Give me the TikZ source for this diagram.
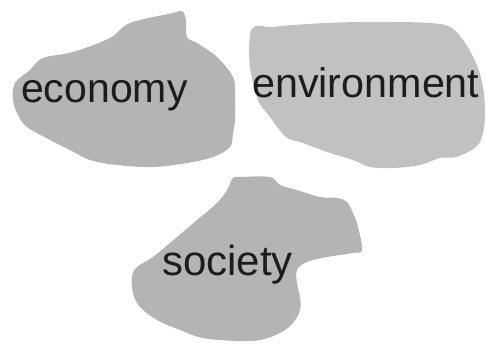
\documentclass[tikz,border=0pt]{standalone}
\usepackage{fontspec}
\setmainfont{Liberation Sans}
\definecolor{blobA}{HTML}{B4B4B4}
\definecolor{blobB}{HTML}{C1C1C1}
\definecolor{ink}{HTML}{1C1C1C}
\begin{document}
\begin{tikzpicture}[x=1pt,y=-1pt,
  blob/.style={fill=#1,draw=none},
  word/.style={anchor=base west,inner sep=0pt,text=ink,font=\fontsize{#1}{48}\selectfont}]
\useasboundingbox (0,0) rectangle (486,344);
\fill[white] (0,0) rectangle (486,344);
% economy
\fill[blobA] plot[smooth cycle,tension=0.6] coordinates {
  (182,11) (186,20) (187,37) (197,43) (217,57) (233,77) (235,93) (235,120)
  (233,133) (230,147) (213,157) (187,163) (153,167) (117,165) (90,160)
  (70,150) (50,140) (27,127) (18,115) (13,100) (15,83) (30,70) (43,58)
  (73,52) (110,38) (130,23) (173,13)};
% environment
\fill[blobB] plot[smooth cycle,tension=0.6] coordinates {
  (256,26) (270,27) (293,25) (326,23) (360,22) (393,22) (430,23) (450,27)
  (463,40) (476,63) (483,87) (485,113) (483,133) (476,147) (456,157)
  (440,158) (420,165) (393,168) (370,167) (353,160) (330,153) (303,143)
  (286,137) (270,117) (258,100) (250,67) (250,35)};
% society
\fill[blobA] plot[smooth cycle,tension=0.6] coordinates {
  (233,178) (240,177) (270,177) (280,185) (297,190) (320,197) (337,198)
  (347,202) (353,213) (358,227) (362,250) (353,253) (327,257) (307,262)
  (297,270) (297,283) (300,297) (300,310) (293,323) (280,333) (260,340)
  (237,341) (203,338) (180,330) (157,320) (140,307) (133,293) (132,277)
  (137,267) (153,257) (177,237) (197,220) (217,203) (227,190)};
\node[word=41] (economy) at (21,103) {economy};
\node[word=41.3] (environment) at (252,98) {environment};
\node[word=42] (society) at (162,275) {society};
\end{tikzpicture}
\end{document}
